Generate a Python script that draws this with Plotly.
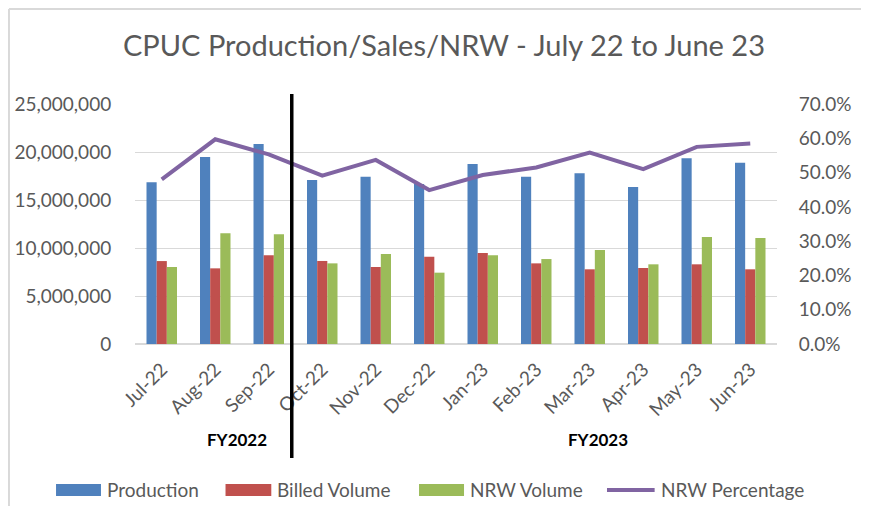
import plotly.graph_objects as go

months = ["Jul-22", "Aug-22", "Sep-22", "Oct-22", "Nov-22", "Dec-22",
          "Jan-23", "Feb-23", "Mar-23", "Apr-23", "May-23", "Jun-23"]
production = [16840000, 19480000, 20830000, 17080000, 17430000, 16670000,
              18750000, 17430000, 17780000, 16350000, 19340000, 18890000]
billed = [8640000, 7880000, 9240000, 8650000, 8020000, 9100000,
          9480000, 8400000, 7780000, 7920000, 8300000, 7780000]
nrw_volume = [8020000, 11530000, 11420000, 8400000, 9380000, 7430000,
              9240000, 8850000, 9790000, 8300000, 11150000, 11040000]
nrw_pct = [0.480, 0.597, 0.553, 0.491, 0.537, 0.449,
           0.493, 0.515, 0.558, 0.510, 0.575, 0.585]

FONT = "Lato"
GREY = "#595959"
COLORS = {"Production": "#4F81BD", "Billed Volume": "#C0504D",
          "NRW Volume": "#9BBB59", "NRW Percentage": "#8064A2"}

fig = go.Figure()
for name, vals in [("Production", production), ("Billed Volume", billed),
                   ("NRW Volume", nrw_volume)]:
    fig.add_trace(go.Bar(x=months, y=vals, name=name,
                         marker=dict(color=COLORS[name], line=dict(width=0))))
fig.add_trace(go.Scatter(x=months, y=nrw_pct, name="NRW Percentage", yaxis="y2",
                         mode="lines", line=dict(color=COLORS["NRW Percentage"], width=4)))

# title as annotation so it sits exactly
fig.add_annotation(text="CPUC Production/Sales/NRW - July 22 to June 23",
                   xref="paper", yref="paper", x=0.481, y=1.246,
                   xanchor="center", yanchor="middle", showarrow=False,
                   font=dict(family=FONT, size=29, color=GREY))

# FY divider and labels
fig.add_shape(type="line", xref="x", yref="paper", x0=2.43, x1=2.43,
              y0=-0.475, y1=1.042, line=dict(color="black", width=3.5))
fig.add_annotation(text="<b>FY2022</b>", xref="x", yref="paper", x=1.41, y=-0.449,
                   showarrow=False, font=dict(family=FONT, size=17, color="black"))
fig.add_annotation(text="<b>FY2023</b>", xref="x", yref="paper", x=8.15, y=-0.449,
                   showarrow=False, font=dict(family=FONT, size=17, color="black"))

# chart border (left and top visible)
fig.add_shape(type="line", xref="paper", yref="paper", x0=-0.1963, x1=-0.1963,
              y0=-0.7, y1=1.396, line=dict(color="#D9D9D9", width=2))
fig.add_shape(type="line", xref="paper", yref="paper", x0=-0.1963, x1=1.2,
              y0=1.396, y1=1.396, line=dict(color="#D9D9D9", width=2))

# legend drawn by hand (Excel style wide swatches)
legend_pos = [("Production", -0.123, -0.053, -0.047),
              ("Billed Volume", 0.141, 0.2123, 0.2174),
              ("NRW Volume", 0.4424, 0.5125, 0.5187),
              ("NRW Percentage", 0.7352, 0.8094, 0.8162)]
for name, x0, x1, xt in legend_pos:
    if name == "NRW Percentage":
        fig.add_shape(type="line", xref="paper", yref="paper", x0=x0, x1=x1,
                      y0=-0.608, y1=-0.608, line=dict(color=COLORS[name], width=4))
    else:
        fig.add_shape(type="rect", xref="paper", yref="paper", x0=x0, x1=x1,
                      y0=-0.633, y1=-0.583, line=dict(width=0), fillcolor=COLORS[name])
    fig.add_annotation(text=name, xref="paper", yref="paper", x=xt, y=-0.608,
                       xanchor="left", yanchor="middle", showarrow=False,
                       font=dict(family=FONT, size=19, color=GREY))

# page body has an 8px margin, so the figure is shifted and sized to compensate
fig.update_layout(
    width=861, height=498,
    margin=dict(l=127, r=92, t=96, b=162),
    paper_bgcolor="white", plot_bgcolor="white",
    font=dict(family=FONT, color=GREY),
    showlegend=False,
    barmode="group", bargap=0.43, bargroupgap=0,
    xaxis=dict(tickangle=-45, tickfont=dict(size=19, color=GREY), showgrid=False,
               showline=False, ticks="outside", ticklen=6, tickcolor="white",
               automargin=False),
    yaxis=dict(range=[0, 25000000], dtick=5000000, tickformat=",d",
               tickfont=dict(size=19, color=GREY), gridcolor="#D9D9D9",
               zeroline=True, zerolinecolor="#D9D9D9", showline=False,
               ticks="outside", ticklen=19, tickcolor="white", automargin=False),
    yaxis2=dict(overlaying="y", side="right", range=[0, 0.7], dtick=0.1,
                tickformat=".1%", tickfont=dict(size=19, color=GREY),
                showgrid=False, zeroline=False, showline=False,
                ticks="outside", ticklen=17, tickcolor="white", automargin=False),
)

fig.write_html("out.html")
